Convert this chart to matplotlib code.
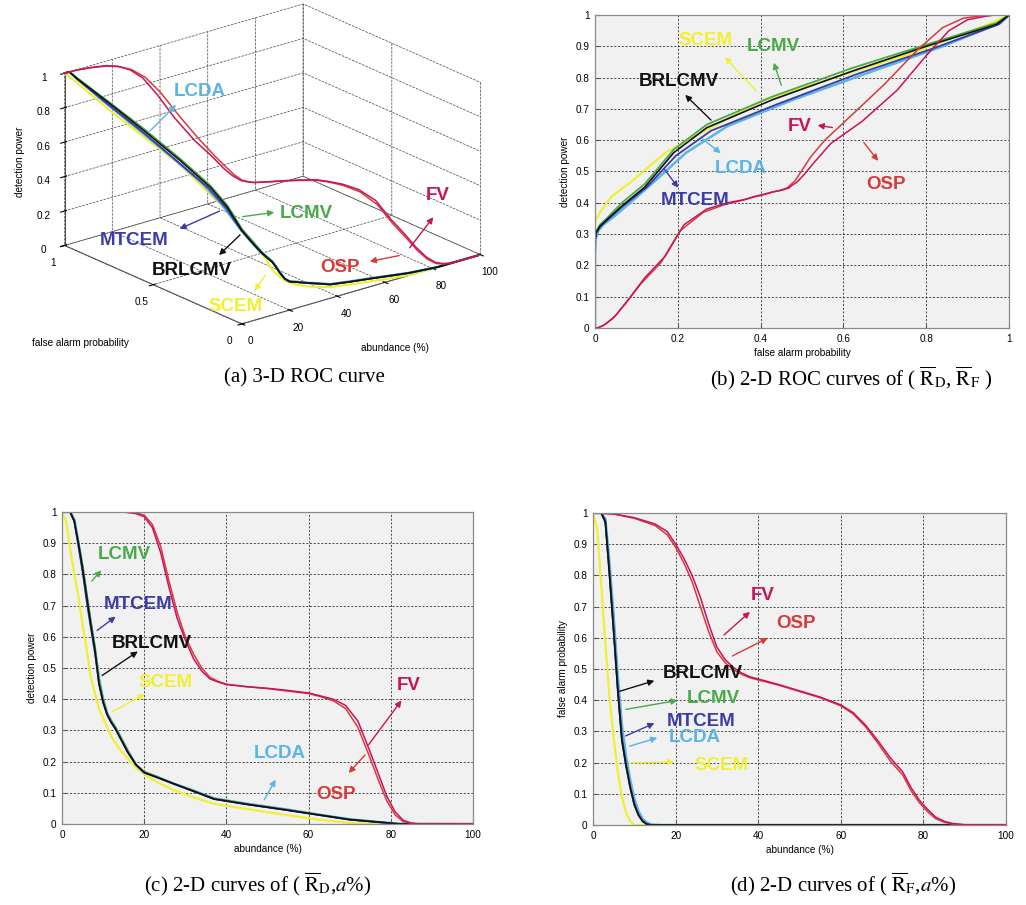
import matplotlib
matplotlib.use("Agg")
import matplotlib.pyplot as plt
from mpl_toolkits.mplot3d import Axes3D  # noqa

plt.rcParams['mathtext.fontset'] = 'stix'
plt.rcParams['font.family'] = ['Liberation Sans', 'DejaVu Sans']

# ---------------- data ----------------
methods = ['FV', 'OSP', 'BRLCMV', 'LCMV', 'MTCEM', 'LCDA', 'SCEM']
colors = {'FV': '#c8145a', 'OSP': '#d83a3a', 'BRLCMV': '#111111', 'LCMV': '#4aaa4a',
          'MTCEM': '#3c3ca8', 'LCDA': '#5ab4e6', 'SCEM': '#f0f032'}

abund_fast = [0, 1, 2, 3, 4, 5, 6, 7, 8, 9, 10, 11, 12, 13, 14, 16, 18, 20, 23, 27, 32, 37, 45, 54, 62, 70, 78, 82, 100]
abund_red = [0, 5, 10, 15, 18, 20, 22, 24, 26, 28, 30, 32, 34, 36, 38, 40, 45, 50, 55, 60, 63, 66, 69, 72, 75, 77, 79, 81, 83, 85, 87, 90, 92, 100]

pd_brlcmv = [1, 1, 1, 0.97, 0.9, 0.82, 0.73, 0.64, 0.56, 0.45, 0.39, 0.35, 0.325, 0.305, 0.28, 0.23, 0.19, 0.165, 0.15, 0.13, 0.105, 0.08, 0.063, 0.046, 0.03, 0.014, 0.005, 0, 0]
pf_brlcmv = [1, 1, 1, 0.97, 0.8, 0.62, 0.43, 0.27, 0.19, 0.12, 0.065, 0.032, 0.012, 0.003, 0, 0, 0, 0, 0, 0, 0, 0, 0, 0, 0, 0, 0, 0, 0]
pd_lcmv = [1, 1, 1, 0.975, 0.905, 0.83, 0.74, 0.65, 0.57, 0.46, 0.40, 0.355, 0.33, 0.31, 0.285, 0.235, 0.19, 0.168, 0.152, 0.13, 0.107, 0.082, 0.064, 0.047, 0.031, 0.015, 0.005, 0, 0]
pf_lcmv = [1, 1, 1, 0.97, 0.8, 0.62, 0.43, 0.27, 0.19, 0.12, 0.065, 0.032, 0.012, 0.003, 0, 0, 0, 0, 0, 0, 0, 0, 0, 0, 0, 0, 0, 0, 0]
pd_mtcem = [1, 1, 1, 0.97, 0.89, 0.81, 0.715, 0.63, 0.55, 0.45, 0.39, 0.35, 0.325, 0.305, 0.28, 0.23, 0.19, 0.165, 0.15, 0.13, 0.105, 0.08, 0.063, 0.046, 0.03, 0.014, 0.005, 0, 0]
pf_mtcem = [1, 1, 1, 0.975, 0.81, 0.63, 0.44, 0.28, 0.195, 0.125, 0.068, 0.034, 0.013, 0.003, 0, 0, 0, 0, 0, 0, 0, 0, 0, 0, 0, 0, 0, 0, 0]
pd_lcda = [1, 1, 1, 0.975, 0.9, 0.82, 0.73, 0.645, 0.56, 0.47, 0.4, 0.355, 0.33, 0.31, 0.285, 0.235, 0.19, 0.165, 0.152, 0.13, 0.107, 0.082, 0.065, 0.048, 0.031, 0.015, 0.005, 0.001, 0]
pf_lcda = [1, 1, 1, 0.98, 0.84, 0.67, 0.48, 0.32, 0.22, 0.145, 0.085, 0.045, 0.02, 0.008, 0.002, 0, 0, 0, 0, 0, 0, 0, 0, 0, 0, 0, 0, 0, 0]
pd_scem = [1, 0.97, 0.88, 0.8, 0.73, 0.64, 0.56, 0.47, 0.42, 0.37, 0.34, 0.31, 0.28, 0.26, 0.24, 0.21, 0.18, 0.16, 0.135, 0.11, 0.085, 0.065, 0.048, 0.03, 0.015, 0.003, 0, 0, 0]
pf_scem = [1, 0.95, 0.77, 0.58, 0.41, 0.28, 0.17, 0.09, 0.04, 0.012, 0, 0, 0, 0, 0, 0, 0, 0, 0, 0, 0, 0, 0, 0, 0, 0, 0, 0, 0]

pd_fv = [1, 1, 1, 1, 0.995, 0.985, 0.95, 0.87, 0.76, 0.66, 0.59, 0.53, 0.49, 0.465, 0.455, 0.447, 0.44, 0.435, 0.428, 0.42, 0.41, 0.40, 0.38, 0.33, 0.23, 0.16, 0.09, 0.04, 0.012, 0.003, 0, 0, 0, 0]
pf_fv = [1, 0.997, 0.985, 0.965, 0.94, 0.9, 0.855, 0.8, 0.73, 0.645, 0.57, 0.53, 0.505, 0.487, 0.475, 0.468, 0.45, 0.43, 0.41, 0.385, 0.36, 0.32, 0.27, 0.215, 0.17, 0.12, 0.08, 0.05, 0.025, 0.012, 0.005, 0.001, 0, 0]
pd_osp = [1, 1, 1, 1, 0.997, 0.99, 0.96, 0.89, 0.78, 0.68, 0.6, 0.545, 0.5, 0.47, 0.457, 0.448, 0.44, 0.434, 0.426, 0.418, 0.408, 0.395, 0.37, 0.31, 0.21, 0.14, 0.075, 0.03, 0.008, 0.002, 0, 0, 0, 0]
pf_osp = [1, 0.997, 0.983, 0.96, 0.93, 0.89, 0.84, 0.78, 0.7, 0.62, 0.555, 0.52, 0.498, 0.483, 0.472, 0.465, 0.448, 0.428, 0.408, 0.382, 0.356, 0.315, 0.262, 0.205, 0.16, 0.11, 0.072, 0.043, 0.02, 0.009, 0.003, 0, 0, 0]

series = {
    'FV': (abund_red, pd_fv, pf_fv),
    'OSP': (abund_red, pd_osp, pf_osp),
    'SCEM': (abund_fast, pd_scem, pf_scem),
    'LCDA': (abund_fast, pd_lcda, pf_lcda),
    'LCMV': (abund_fast, pd_lcmv, pf_lcmv),
    'MTCEM': (abund_fast, pd_mtcem, pf_mtcem),
    'BRLCMV': (abund_fast, pd_brlcmv, pf_brlcmv),
}
draw_order = ['SCEM', 'LCDA', 'LCMV', 'MTCEM', 'BRLCMV', 'OSP', 'FV']
lw = {'FV': 1.1, 'OSP': 1.1, 'SCEM': 1.6, 'LCDA': 1.8, 'LCMV': 1.3, 'MTCEM': 1.3, 'BRLCMV': 1.2}

W, H = 1026, 905
fig = plt.figure(figsize=(W / 100, H / 100), dpi=100)

lab_kw = dict(fontsize=13.5, fontweight='bold', family=['Liberation Sans', 'DejaVu Sans'])
small = 7.2
grid_kw = dict(color='#333333', linestyle=(0, (2.5, 2)), linewidth=0.6)


def style2d(ax, xt, xtl, yt, ytl):
    ax.set_facecolor('#f1f1f1')
    ax.set_xticks(xt)
    ax.set_xticklabels(xtl)
    ax.set_yticks(yt)
    ax.set_yticklabels(ytl)
    ax.tick_params(direction='in', length=3, labelsize=small, pad=4, color='#555555')
    for s in ax.spines.values():
        s.set_color('#8a8a8a')
        s.set_linewidth(0.9)
    ax.grid(True, **grid_kw)
    ax.set_axisbelow(True)


def annot(ax, text, name, xy_text, xy_tail, xy_head):
    c = colors[name]
    ax.annotate('', xy=xy_head, xytext=xy_tail,
                arrowprops=dict(arrowstyle='-|>', color=c, lw=1.0, mutation_scale=9))
    ax.annotate(text, xy=xy_text, color=c, ha='center', va='center', **lab_kw)


y_ticks = [0, 0.1, 0.2, 0.3, 0.4, 0.5, 0.6, 0.7, 0.8, 0.9, 1]
y_tl = ['0', '0.1', '0.2', '0.3', '0.4', '0.5', '0.6', '0.7', '0.8', '0.9', '1']
ab_ticks = [0, 20, 40, 60, 80, 100]
ab_tl = ['0', '20', '40', '60', '80', '100']
pf_ticks = [0, 0.2, 0.4, 0.6, 0.8, 1]
pf_tl = ['0', '0.2', '0.4', '0.6', '0.8', '1']

# ---------------- (a) 3-D ----------------
plt.rcParams['grid.linestyle'] = '--'
plt.rcParams['grid.color'] = '#444444'
plt.rcParams['grid.linewidth'] = 0.5
ax3 = fig.add_axes([-0.020, 0.5775, 0.56, 0.47], projection='3d', proj_type='ortho')
for axis in (ax3.xaxis, ax3.yaxis, ax3.zaxis):
    axis.set_pane_color((1, 1, 1, 0))
    axis.pane.set_edgecolor('#555555')
    axis.pane.set_linestyle('--')
    axis.pane.set_linewidth(0.5)
    axis.line.set_color('#555555')
for name in draw_order:
    a, pdv, pfv = series[name]
    ax3.plot(a, pfv, pdv, color=colors[name], lw=lw[name])
ax3.set_xlim(0, 100)
ax3.set_ylim(0, 1)
ax3.set_zlim(0, 1)
ax3.set_xticks(ab_ticks)
ax3.set_xticklabels(ab_tl)
ax3.set_yticks([0, 0.5, 1])
ax3.set_yticklabels(['0', '0.5', '1'])
ax3.set_zticks([0, 0.2, 0.4, 0.6, 0.8, 1])
ax3.set_zticklabels(['0', '0.2', '0.4', '0.6', '0.8', '1'])
ax3.tick_params(labelsize=small, pad=0)
ax3.view_init(elev=21, azim=-129)
ax3.set_box_aspect((1.09, 1.0, 0.655), zoom=1.04)

# overlay in pixel coordinates for panel (a) labels and captions
axo = fig.add_axes([0, 0, 1, 1], zorder=10)
axo.set_xlim(0, W)
axo.set_ylim(H, 0)
axo.axis('off')
axo.patch.set_alpha(0)

axo.text(20, 162, 'detection power', rotation=90, ha='center', va='center', fontsize=small)
axo.text(80, 343, 'false alarm probability', ha='center', va='center', fontsize=small)
axo.text(395, 348, 'abundance (%)', ha='center', va='center', fontsize=small)

annot(axo, 'LCDA', 'LCDA', (200, 92), (148, 133), (178, 103))
annot(axo, 'LCMV', 'LCMV', (306, 213), (240, 217), (277, 212))
annot(axo, 'MTCEM', 'MTCEM', (134, 240), (222, 210), (177, 230))
annot(axo, 'BRLCMV', 'BRLCMV', (192, 270), (242, 233), (217, 257))
annot(axo, 'SCEM', 'SCEM', (236, 306), (267, 273), (253, 293))
annot(axo, 'FV', 'FV', (438, 195), (408, 250), (435, 215))
annot(axo, 'OSP', 'OSP', (340, 267), (402, 255), (367, 262))

# ---------------- (b) ROC ----------------
axb = fig.add_axes([595 / W, 1 - 328 / H, 414 / W, 313 / H])
for name in draw_order:
    a, pdv, pfv = series[name]
    axb.plot(pfv, pdv, color=colors[name], lw=lw[name])
axb.set_xlim(0, 1)
axb.set_ylim(0, 1)
style2d(axb, pf_ticks, pf_tl, y_ticks, y_tl)
axb.set_xlabel('false alarm probability', fontsize=small, labelpad=3)
axb.set_ylabel('detection power', fontsize=small, labelpad=4)
annot(axb, 'SCEM', 'SCEM', (0.266, 0.917), (0.394, 0.751), (0.309, 0.872))
annot(axb, 'LCMV', 'LCMV', (0.43, 0.90), (0.452, 0.767), (0.43, 0.856))
annot(axb, 'BRLCMV', 'BRLCMV', (0.203, 0.789), (0.285, 0.658), (0.213, 0.751))
annot(axb, 'LCDA', 'LCDA', (0.353, 0.511), (0.254, 0.61), (0.309, 0.553))
annot(axb, 'MTCEM', 'MTCEM', (0.242, 0.406), (0.164, 0.514), (0.205, 0.441))
annot(axb, 'FV', 'FV', (0.495, 0.645), (0.58, 0.639), (0.531, 0.649))
annot(axb, 'OSP', 'OSP', (0.703, 0.46), (0.645, 0.60), (0.688, 0.527))

# ---------------- (c) Pd vs abundance ----------------
axc = fig.add_axes([62 / W, 1 - 824 / H, 411 / W, 312 / H])
for name in draw_order:
    a, pdv, pfv = series[name]
    axc.plot(a, pdv, color=colors[name], lw=lw[name])
axc.set_xlim(0, 100)
axc.set_ylim(0, 1)
style2d(axc, ab_ticks, ab_tl, y_ticks, y_tl)
axc.set_xlabel('abundance (%)', fontsize=small, labelpad=3)
axc.set_ylabel('detection power', fontsize=small, labelpad=4)
annot(axc, 'LCMV', 'LCMV', (15.1, 0.865), (6.8, 0.772), (10.0, 0.82))
annot(axc, 'MTCEM', 'MTCEM', (18.5, 0.705), (8.0, 0.615), (13.6, 0.67))
annot(axc, 'BRLCMV', 'BRLCMV', (21.9, 0.577), (9.2, 0.471), (19.0, 0.558))
annot(axc, 'SCEM', 'SCEM', (25.1, 0.455), (11.7, 0.356), (20.7, 0.42))
annot(axc, 'LCDA', 'LCDA', (53.0, 0.227), (48.9, 0.07), (52.3, 0.15))
annot(axc, 'FV', 'FV', (84.4, 0.445), (74.2, 0.247), (83.0, 0.403))
annot(axc, 'OSP', 'OSP', (66.7, 0.093), (74.2, 0.228), (69.3, 0.157))

# ---------------- (d) Pf vs abundance ----------------
axd = fig.add_axes([593 / W, 1 - 825 / H, 413 / W, 312 / H])
for name in draw_order:
    a, pdv, pfv = series[name]
    axd.plot(a, pfv, color=colors[name], lw=lw[name])
axd.set_xlim(0, 100)
axd.set_ylim(0, 1)
style2d(axd, ab_ticks, ab_tl, y_ticks, y_tl)
axd.set_xlabel('abundance (%)', fontsize=small, labelpad=3)
axd.set_ylabel('false alarm probability', fontsize=small, labelpad=4)
annot(axd, 'FV', 'FV', (41.2, 0.737), (31.2, 0.603), (38.5, 0.689))
annot(axd, 'OSP', 'OSP', (49.2, 0.647), (33.2, 0.538), (42.9, 0.603))
annot(axd, 'BRLCMV', 'BRLCMV', (26.6, 0.487), (5.8, 0.426), (15.5, 0.465))
annot(axd, 'LCMV', 'LCMV', (29.1, 0.407), (7.3, 0.369), (21.1, 0.401))
annot(axd, 'MTCEM', 'MTCEM', (26.2, 0.333), (7.3, 0.282), (15.5, 0.33))
annot(axd, 'LCDA', 'LCDA', (24.7, 0.282), (8.2, 0.25), (16.2, 0.282))
annot(axd, 'SCEM', 'SCEM', (31.2, 0.192), (8.5, 0.199), (20.3, 0.202))

# ---------------- captions ----------------
cap_kw = dict(fontsize=15, family=['Liberation Serif', 'DejaVu Serif'], ha='center', va='center')
axo.text(304, 378, '(a) 3-D ROC curve', **cap_kw)
axo.text(851, 378, r'(b) 2-D ROC curves of ( $\overline{\mathrm{R}}_{\mathrm{D}}$, $\overline{\mathrm{R}}_{\mathrm{F}}$ )', **cap_kw)
axo.text(258, 884, r'(c) 2-D curves of ( $\overline{\mathrm{R}}_{\mathrm{D}}$,$a$%)', **cap_kw)
axo.text(843, 884, r'(d) 2-D curves of ( $\overline{\mathrm{R}}_{\mathrm{F}}$,$a$%)', **cap_kw)

fig.savefig('out.png', dpi=100, facecolor='white')
